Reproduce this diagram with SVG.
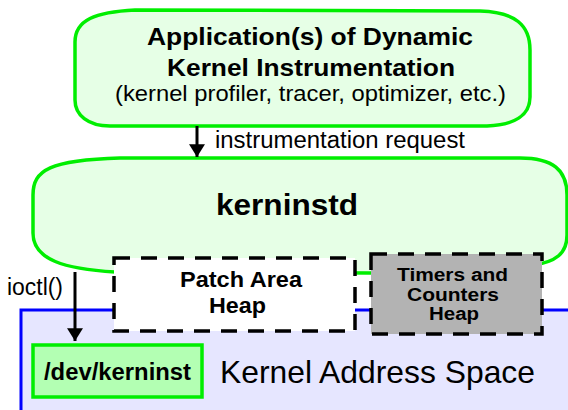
<svg xmlns="http://www.w3.org/2000/svg" width="568" height="410" viewBox="0 0 568 410">
<defs>
<marker id="arr" markerWidth="20" markerHeight="16" refX="16" refY="10" orient="auto" markerUnits="userSpaceOnUse" viewBox="0 0 16 20">
<path d="M0,0 L16,10 L0,20 Z" fill="#000"/>
</marker>
<style>
.t{font-family:"Liberation Sans",Arial,sans-serif;fill:#000}
.b{font-weight:bold}
.g{stroke:#00ee00;stroke-width:3.5}
.d{stroke:#000;stroke-width:3.5;stroke-dasharray:16 11}
.c{stroke:#000;stroke-width:3;fill:none}
</style>
</defs>
<g id="kernel-space">
<rect x="21" y="310" width="570" height="120" fill="#e6e6ff" stroke="#0000ff" stroke-width="3"/>
<text class="t" x="220" y="383" font-size="31.5" textLength="315" lengthAdjust="spacingAndGlyphs">Kernel Address Space</text>
</g>
<g id="app">
<path class="g" fill="#e6ffe6" d="M135,10 L480,11 C515,12 530,25 530,50 L530,97 C530,115 515,125 487,126 L110,126 C88,126 75,115 75,100 L75,42 C75,20 95,12 135,10 Z"/>
<text class="t b" x="147" y="45" font-size="24.5" textLength="326" lengthAdjust="spacingAndGlyphs">Application(s) of Dynamic</text>
<text class="t b" x="167" y="75.5" font-size="24" textLength="288" lengthAdjust="spacingAndGlyphs">Kernel Instrumentation</text>
<text class="t" x="115" y="100.5" font-size="21.5" textLength="391" lengthAdjust="spacingAndGlyphs">(kernel profiler, tracer, optimizer, etc.)</text>
</g>
<g id="kerninstd">
<path class="g" fill="#e6ffe6" d="M120,158 L520,158 C553,158 567,170 567,195 L567,235 C567,253 557,262 530,266 L370,273 L115,272 C65,269 33,260 33,233 L33,195 C33,170 50,160 120,158 Z"/>
<text class="t b" x="216" y="215" font-size="29.5" textLength="142" lengthAdjust="spacingAndGlyphs">kerninstd</text>
</g>
<g id="patch-heap">
<rect class="d" x="114" y="258" width="241" height="73" fill="#ffffff"/>
<text class="t b" x="180" y="287" font-size="21.5" textLength="122" lengthAdjust="spacingAndGlyphs">Patch Area</text>
<text class="t b" x="209" y="313" font-size="21.5" textLength="57" lengthAdjust="spacingAndGlyphs">Heap</text>
</g>
<g id="timers-heap">
<rect class="d" x="371" y="254" width="171" height="80" fill="#b3b3b3"/>
<text class="t b" x="397" y="281" font-size="17.5" textLength="111" lengthAdjust="spacingAndGlyphs">Timers and</text>
<text class="t b" x="407" y="300.5" font-size="17.5" textLength="92" lengthAdjust="spacingAndGlyphs">Counters</text>
<text class="t b" x="429" y="320" font-size="17.5" textLength="50" lengthAdjust="spacingAndGlyphs">Heap</text>
</g>
<g id="dev-kerninst">
<rect class="g" x="33" y="345" width="169" height="52" fill="#b3ffb3"/>
<text class="t b" x="44" y="380" font-size="23.5" textLength="147" lengthAdjust="spacingAndGlyphs">/dev/kerninst</text>
</g>
<g id="connectors">
<line class="c" x1="197" y1="126" x2="197" y2="157" marker-end="url(#arr)"/>
<text class="t" x="215" y="148" font-size="23.5" textLength="250" lengthAdjust="spacingAndGlyphs">instrumentation request</text>
<line class="c" x1="75" y1="272" x2="75" y2="341" marker-end="url(#arr)"/>
<text class="t" x="7" y="295" font-size="23" textLength="56" lengthAdjust="spacingAndGlyphs">ioctl()</text>
</g>
</svg>
